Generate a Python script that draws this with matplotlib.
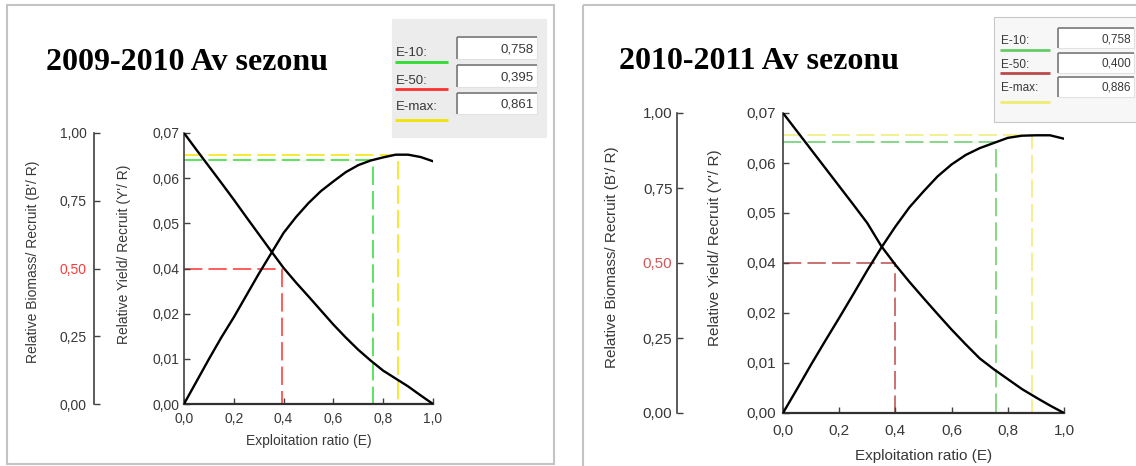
import matplotlib
matplotlib.use("Agg")
import matplotlib.pyplot as plt
import numpy as np
from matplotlib.patches import Rectangle
from matplotlib.lines import Line2D

W, H = 1136, 466
plt.rcParams["font.family"] = ["Liberation Sans", "DejaVu Sans"]

# exploitation ratio grid and the two seasons' relative Y'/R and B'/R curves
e_ratio = [0.0, 0.05, 0.1, 0.15, 0.2, 0.25, 0.3, 0.35, 0.4, 0.45, 0.5, 0.55,
           0.6, 0.65, 0.7, 0.75, 0.8, 0.85, 0.9, 0.95, 1.0]
yield_0910 = [0.0, 0.0058, 0.0116, 0.0172, 0.0224, 0.0280, 0.0336, 0.0389,
              0.0442, 0.0483, 0.0519, 0.0550, 0.0575, 0.0599, 0.0617, 0.0629,
              0.0637, 0.0644, 0.0644, 0.0638, 0.0627]
biomass_0910 = [1.0, 0.938, 0.877, 0.816, 0.754, 0.690, 0.627, 0.564, 0.502,
                0.448, 0.397, 0.345, 0.293, 0.245, 0.200, 0.160, 0.123, 0.094,
                0.065, 0.032, 0.0]
yield_1011 = [0.0, 0.0056, 0.0113, 0.0168, 0.0222, 0.0277, 0.0333, 0.0386,
              0.0435, 0.0480, 0.0517, 0.0552, 0.0580, 0.0602, 0.0618, 0.0630,
              0.0642, 0.0647, 0.0648, 0.0648, 0.0640]
biomass_1011 = [1.0, 0.939, 0.878, 0.817, 0.756, 0.695, 0.633, 0.556, 0.494,
                0.437, 0.383, 0.330, 0.278, 0.229, 0.182, 0.146, 0.113, 0.080,
                0.052, 0.025, 0.0]

# reference points E-10, E-50, E-max
ref_names = ["E-10:", "E-50:", "E-max:"]
ref_0910 = [0.758, 0.395, 0.861]
ref_1011 = [0.758, 0.400, 0.886]

titles = ["2009-2010 Av sezonu", "2010-2011 Av sezonu"]

x_ticks = [0.0, 0.2, 0.4, 0.6, 0.8, 1.0]
x_ticklabels = ["0,0", "0,2", "0,4", "0,6", "0,8", "1,0"]
yield_ticklabels = ["0,00", "0,01", "0,02", "0,04", "0,05", "0,06", "0,07"]
biomass_ticks = [0.0, 0.25, 0.5, 0.75, 1.0]
biomass_ticklabels = ["0,00", "0,25", "0,50", "0,75", "1,00"]

Y_TOP = 0.07
B_TOP = 1.0
TXT = "#383838"


def fx(x):
    return x / W


def fy(y):
    return 1 - y / H


fig = plt.figure(figsize=(W / 100, H / 100), dpi=100)


def hline(x0, x1, y, color, lw):
    fig.add_artist(Line2D([fx(x0), fx(x1)], [fy(y), fy(y)], transform=fig.transFigure,
                          color=color, lw=lw, solid_capstyle="butt"))


def vline(x, y0, y1, color, lw):
    fig.add_artist(Line2D([fx(x), fx(x)], [fy(y0), fy(y1)], transform=fig.transFigure,
                          color=color, lw=lw, solid_capstyle="butt"))


def box(x0, y0, x1, y1, face, edge, lw=1.0):
    fig.add_artist(Rectangle((fx(x0), fy(y1)), (x1 - x0) / W, (y1 - y0) / H,
                             transform=fig.transFigure, facecolor=face,
                             edgecolor=edge, lw=lw))


def draw_panel(title, yld, bms, refs, L):
    x0, y0, x1, y1 = L["plot"]
    fs = L["fs"]
    ax = fig.add_axes([fx(x0), fy(y1), (x1 - x0) / W, (y1 - y0) / H])
    axb = fig.add_axes([fx(x0), fy(y1), (x1 - x0) / W, (y1 - y0) / H])
    axb.patch.set_visible(False)

    for a in (ax, axb):
        a.set_xlim(0, 1)
        for s in ("top", "right"):
            a.spines[s].set_visible(False)
    ax.set_ylim(0, Y_TOP)
    axb.set_ylim(0, B_TOP)

    e10, e50, emax = refs
    c10, c50, cmax = L["colors"]
    dash = dict(lw=1.1, linestyle=(0, (12, 4)), zorder=1)
    lvl10 = np.interp(e10, e_ratio, yld)
    lvlmax = np.interp(emax, e_ratio, yld)
    lvl50 = 0.5 * Y_TOP / B_TOP
    ax.plot([0, emax, emax], [lvlmax, lvlmax, 0], color=cmax, **dash)
    ax.plot([0, e10, e10], [lvl10, lvl10, 0], color=c10, **dash)
    ax.plot([0, e50, e50], [lvl50, lvl50, 0], color=c50, **dash)

    ax.plot(e_ratio, yld, color="black", lw=1.7, zorder=3)
    axb.plot(e_ratio, bms, color="black", lw=1.7, zorder=3)

    # yield axis
    ax.spines["left"].set_color("#404040")
    ax.spines["bottom"].set_color("#303030")
    ax.spines["left"].set_linewidth(1.2)
    ax.spines["bottom"].set_linewidth(1.6)
    ax.set_yticks(np.linspace(0, Y_TOP, len(yield_ticklabels)))
    ax.set_yticklabels(yield_ticklabels)
    ax.set_xticks(x_ticks)
    ax.set_xticklabels(x_ticklabels)
    ax.tick_params(axis="y", direction="in", length=4, width=1, colors="#404040",
                   labelcolor=TXT, labelsize=fs, pad=L["ypad"])
    ax.tick_params(axis="x", direction="in", length=4, width=1, colors="#404040",
                   labelcolor=TXT, labelsize=fs, pad=L["xpad"])
    ax.set_xlabel("Exploitation ratio (E)", fontsize=fs, color=TXT,
                  labelpad=L["xlabelpad"])

    # biomass axis, pushed out to the left
    axb.spines["bottom"].set_visible(False)
    axb.spines["left"].set_position(("outward", L["b_offset"]))
    axb.spines["left"].set_color("#404040")
    axb.spines["left"].set_linewidth(1.2)
    axb.set_xticks([])
    axb.set_yticks(biomass_ticks)
    axb.set_yticklabels(biomass_ticklabels)
    axb.tick_params(axis="y", direction="in", length=4, width=1, colors="#404040",
                    labelcolor=TXT, labelsize=fs, pad=L["bpad"])
    axb.get_yticklabels()[2].set_color(L["half_color"])

    bx, by = L["blabel"]
    fig.text(fx(bx), fy(by), "Relative Biomass/ Recruit (B'/ R)", rotation=90,
             ha="center", va="center", fontsize=fs, color=TXT)
    yx, yy = L["ylabel"]
    fig.text(fx(yx), fy(yy), "Relative Yield/ Recruit (Y'/ R)", rotation=90,
             ha="center", va="center", fontsize=fs, color=TXT)

    tx, ty = L["title"]
    fig.text(fx(tx), fy(ty), title, fontsize=23, fontweight="bold",
             family="Liberation Serif", ha="left", va="baseline", color="black")

    # E-10 / E-50 / E-max readout panel
    gx0, gy0, gx1, gy1 = L["legend"]
    box(gx0, gy0, gx1, gy1, L["legend_face"], L["legend_edge"], lw=0.8)
    lx0, lx1, vx0, vx1 = L["legend_cols"]
    for name, val, col, (ly, uy, vy0, vy1) in zip(ref_names, refs,
                                                  L["colors"], L["legend_rows"]):
        fig.text(fx(lx0 + 1), fy(ly), name, fontsize=L["lfs"], color=TXT,
                 ha="left", va="center")
        hline(lx0, lx1, uy, col, 2.0)
        box(vx0, vy0, vx1, vy1, "white", "#e2e2e2", lw=0.8)
        hline(vx0, vx1, vy0, "#7a7a7a", 1.2)
        vline(vx0, vy0, vy1, "#7a7a7a", 1.2)
        fig.text(fx(vx1 - 3), fy((vy0 + vy1) / 2 + 1), f"{val:.3f}".replace(".", ","),
                 fontsize=L["lfs"], color=TXT, ha="right", va="center")


layout_left = dict(
    plot=(184, 133, 433, 404), fs=10, ypad=3, bpad=5, xpad=5.5, xlabelpad=6,
    b_offset=65, blabel=(33, 262), ylabel=(124, 254), title=(46, 70),
    colors=["#2fdc2f", "#ff3030", "#f0e400"], half_color="#ff3a3a",
    legend=(392, 19, 546, 137), legend_face="#ececec", legend_edge="#ececec",
    legend_cols=(395, 448, 457, 537),
    legend_rows=[(53, 62, 37, 59), (81, 89, 65, 87), (107, 120, 93, 114)], lfs=9.5,
)
layout_right = dict(
    plot=(783, 113, 1064, 413), fs=11, ypad=5, bpad=3.6, xpad=8, xlabelpad=8,
    b_offset=76, blabel=(612, 257), ylabel=(715, 248), title=(619, 69),
    colors=["#66cc66", "#bb4a4a", "#eeee70"], half_color="#d05858",
    legend=(994, 17, 1140, 122), legend_face="#f7f7f7", legend_edge="#c8c8c8",
    legend_cols=(1000, 1050, 1058, 1134),
    legend_rows=[(41, 50, 28, 48), (65, 73, 53, 73), (88, 102, 77, 97)], lfs=8.5,
)

draw_panel(titles[0], yield_0910, biomass_0910, ref_0910, layout_left)
draw_panel(titles[1], yield_1011, biomass_1011, ref_1011, layout_right)

# frames around the two screens
box(7, 5, 554, 464, "none", "#c4c4c4", lw=1.5)
vline(583, 5, 470, "#c4c4c4", 1.5)
hline(583, 1140, 5, "#c4c4c4", 1.5)

fig.savefig("out.png", dpi=100)
